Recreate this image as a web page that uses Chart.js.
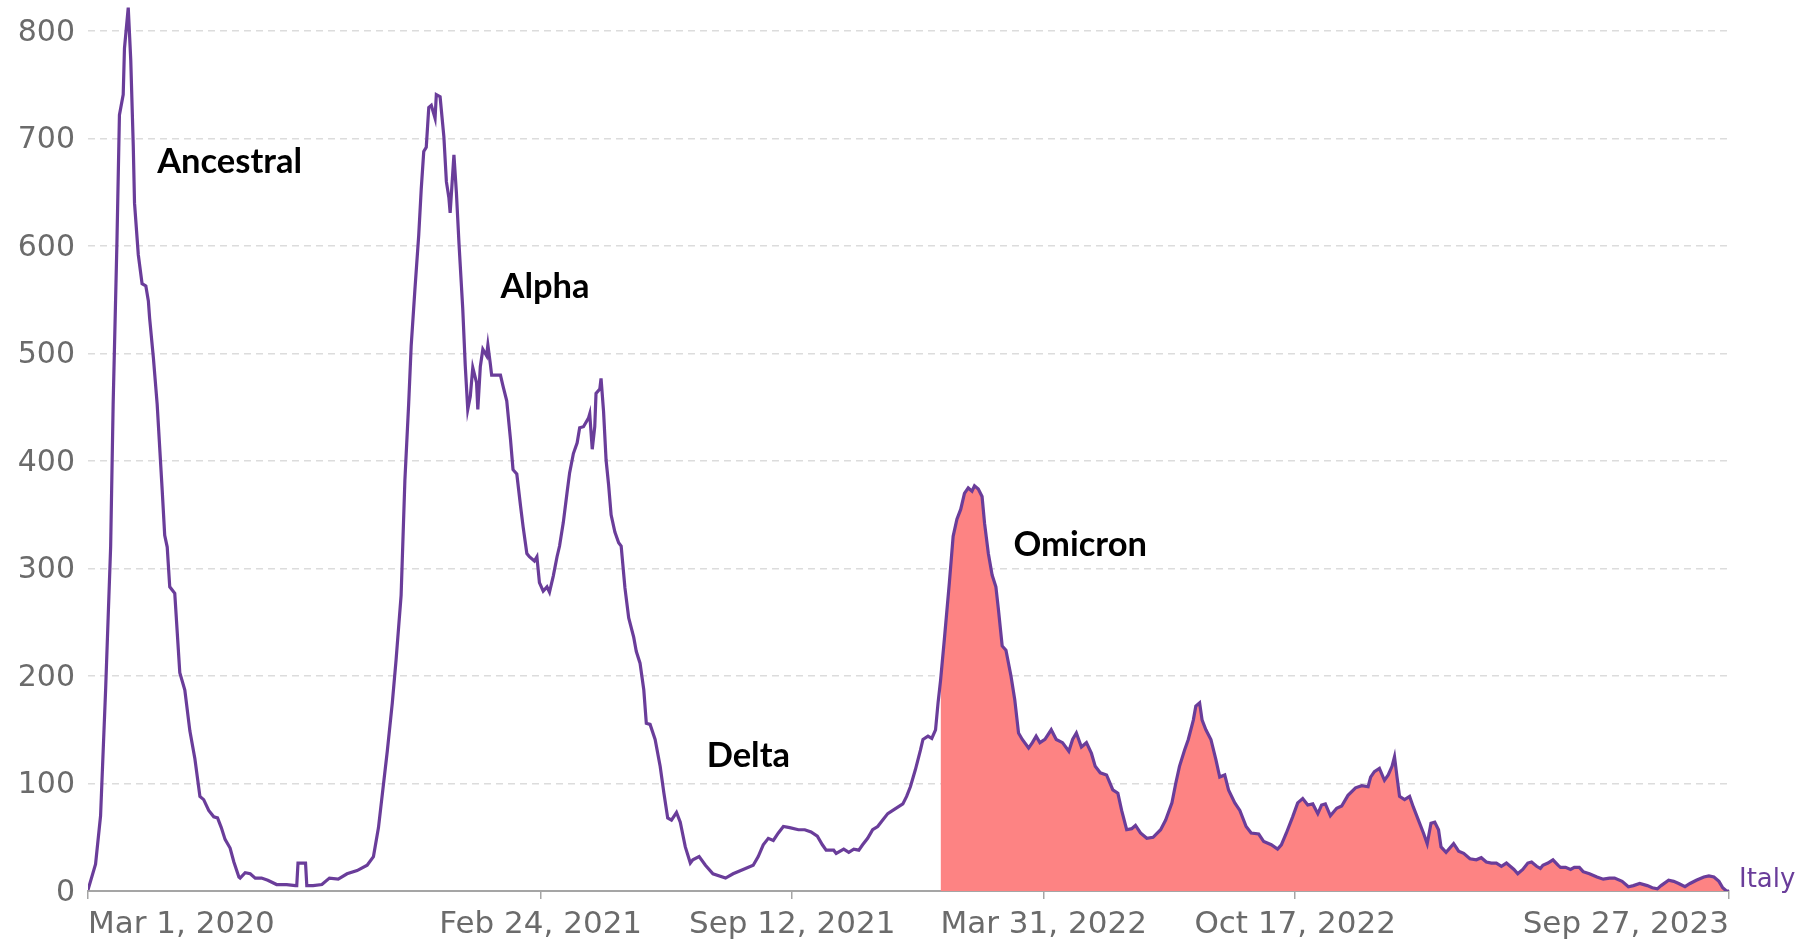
<!DOCTYPE html>
<html>
<head>
<meta charset="utf-8">
<script src="https://cdn.jsdelivr.net/npm/chart.js@4"></script>
<style>
  html, body { margin: 0; padding: 0; background: #fff; }
  #wrap { width: 1801px; height: 943px; }
</style>
</head>
<body>
<div id="wrap"><canvas id="myChart" width="1801" height="943"></canvas></div>
<script>
// days since Mar 1, 2020 and the value
const dayOffsets = [
  0, 6, 10, 14, 18, 20, 23, 25, 28, 29, 32, 34, 36, 37, 40, 43, 46, 48, 49, 52,
  55, 59, 61, 63, 65, 69, 71, 73, 77, 81, 85, 89, 92, 96, 100, 103, 106, 109, 113, 116,
  120, 121, 125, 129, 133, 138, 143, 150, 158, 165, 166, 167, 173, 174, 179, 186, 192, 199, 206, 214,
  222, 227, 231, 238, 242, 245, 249, 252, 255, 257, 260, 263, 265, 267, 269, 271, 273, 276, 277, 280,
  283, 285, 287, 288, 291, 293, 295, 298, 300, 302, 304, 306, 309, 310, 312, 314, 317, 318, 320, 321,
  324, 328, 330, 333, 336, 338, 341, 344, 346, 349, 351, 355, 357, 359, 362, 365, 367, 370, 373, 375,
  378, 381, 383, 386, 389, 391, 394, 398, 399, 401, 403, 404, 407, 408, 410, 412, 414, 416, 419, 422,
  424, 427, 430, 434, 436, 439, 442, 444, 447, 451, 455, 458, 461, 464, 468, 471, 475, 479, 481, 486,
  491, 497, 507, 513, 521, 529, 533, 537, 541, 545, 549, 553, 558, 565, 570, 575, 580, 584, 587, 593,
  595, 601, 605, 609, 613, 616, 620, 624, 628, 632, 636, 640, 644, 648, 651, 654, 658, 662, 664, 668,
  671, 674, 676, 678, 681, 685, 688, 691, 694, 697, 700, 703, 705, 708, 711, 713, 716, 719, 722, 724,
  727, 730, 734, 737, 740, 743, 748, 751, 754, 757, 761, 766, 770, 775, 780, 783, 786, 790, 794, 798,
  801, 805, 810, 815, 819, 822, 826, 830, 833, 837, 842, 847, 853, 857, 862, 865, 868, 872, 875, 879,
  881, 884, 886, 889, 893, 897, 900, 904, 907, 912, 916, 921, 925, 931, 935, 941, 946, 949, 953, 958,
  962, 966, 970, 974, 978, 981, 984, 988, 993, 997, 1002, 1008, 1013, 1018, 1020, 1023, 1027, 1031, 1034, 1037,
  1039, 1041, 1043, 1047, 1051, 1054, 1058, 1062, 1065, 1068, 1071, 1074, 1076, 1080, 1086, 1090, 1094, 1099, 1104, 1108,
  1112, 1116, 1120, 1124, 1128, 1134, 1137, 1141, 1145, 1148, 1152, 1155, 1157, 1161, 1165, 1169, 1171, 1175, 1179, 1182,
  1186, 1189, 1194, 1200, 1205, 1210, 1214, 1220, 1225, 1229, 1234, 1240, 1244, 1248, 1251, 1257, 1261, 1265, 1270, 1274,
  1279, 1285, 1289, 1293, 1297, 1300, 1303, 1305
]
const incidence = [
  1, 25, 70, 187, 320, 453, 603, 722, 741, 784, 822, 773, 693, 640, 592, 565, 563, 549, 533, 496,
  453, 373, 331, 320, 283, 277, 240, 203, 187, 149, 123, 88, 85, 75, 69, 68, 59, 48, 40, 27,
  13, 12, 17, 16, 12, 12, 10, 6, 6, 5, 5, 26, 26, 5, 5, 6, 12, 11, 16, 19,
  24, 32, 59, 130, 175, 215, 275, 382, 453, 507, 560, 610, 653, 688, 692, 729, 731, 719, 741, 739,
  702, 660, 645, 631, 685, 649, 603, 542, 489, 448, 460, 487, 473, 448, 488, 504, 498, 508, 490, 480,
  480, 480, 470, 456, 420, 392, 388, 358, 339, 314, 311, 307, 311, 287, 279, 283, 278, 293, 311, 321,
  343, 371, 389, 407, 417, 431, 432, 440, 444, 411, 432, 463, 467, 477, 446, 401, 378, 350, 334, 324,
  321, 282, 254, 236, 223, 212, 187, 156, 155, 141, 116, 91, 68, 66, 73, 64, 41, 26, 29, 32,
  24, 16, 12, 16, 20, 24, 32, 43, 49, 47, 54, 60, 59, 57, 57, 55, 51, 43, 38, 38,
  35, 39, 36, 39, 38, 43, 49, 57, 60, 66, 72, 75, 78, 81, 88, 97, 113, 131, 141, 144,
  142, 150, 175, 196, 234, 287, 330, 346, 355, 370, 375, 372, 377, 374, 367, 342, 314, 294, 283, 262,
  228, 224, 200, 178, 147, 141, 133, 138, 144, 138, 141, 150, 141, 138, 130, 141, 147, 134, 138, 128,
  116, 110, 108, 94, 91, 75, 57, 58, 61, 54, 49, 50, 57, 66, 82, 100, 116, 131, 141, 159,
  172, 175, 159, 150, 141, 122, 106, 108, 94, 82, 75, 60, 54, 53, 46, 43, 39, 43, 54, 69,
  82, 86, 80, 81, 72, 80, 81, 70, 77, 79, 89, 96, 98, 97, 106, 111, 114, 103, 108, 116,
  125, 106, 88, 85, 88, 78, 66, 54, 44, 63, 64, 57, 41, 36, 44, 37, 35, 30, 29, 31,
  27, 26, 26, 23, 26, 20, 16, 20, 26, 27, 23, 21, 24, 26, 29, 24, 22, 22, 20, 22,
  22, 18, 16, 13, 11, 12, 12, 9, 4, 5, 7, 5, 3, 2, 5, 10, 9, 7, 4, 7,
  10, 13, 14, 13, 9, 3, 0, 0
]

const omicronStartDay = 678

const xTickDays = [0, 360, 560, 760, 960, 1305]
const xTickLabels = ['Mar 1, 2020', 'Feb 24, 2021', 'Sep 12, 2021', 'Mar 31, 2022', 'Oct 17, 2022', 'Sep 27, 2023']
const yTicks = [0, 100, 200, 300, 400, 500, 600, 700, 800]

const waveNames = ['Ancestral', 'Alpha', 'Delta', 'Omicron']
const waveDays = [55, 328, 492, 736]
const waveLevels = [668, 552, 115, 312]

const seriesName = 'Italy'

const linePoints = dayOffsets.map((d, i) => ({x: d, y: incidence[i]}))
const omicronPoints = linePoints.filter(p => p.x >= omicronStartDay)

const tickColor = '#6b6b6b'

// wave names and the end label, placed through the scales
const labelPlugin = {
  id: 'waveLabels',
  afterDatasetsDraw(chart) {
    const {ctx, scales: {x, y}, chartArea} = chart
    ctx.save()
    ctx.font = 'bold 34.5px Lato'
    ctx.fillStyle = '#000'
    ctx.textBaseline = 'alphabetic'
    ctx.textAlign = 'left'
    waveNames.forEach((name, i) => {
      ctx.fillText(name, x.getPixelForValue(waveDays[i]), y.getPixelForValue(waveLevels[i]))
    })
    ctx.font = '26px DejaVu Sans'
    ctx.fillStyle = '#6a3d9a'
    ctx.fillText(seriesName, chartArea.right + 10, y.getPixelForValue(0) - 4)
    ctx.restore()
  }
}

new Chart(document.getElementById('myChart'), {
  type: 'line',
  data: {
    datasets: [
      {
        label: seriesName,
        data: linePoints,
        borderColor: '#6a3d9a',
        borderWidth: 3.2,
        pointRadius: 0,
        fill: false,
        tension: 0,
        order: 0
      },
      {
        label: 'Omicron',
        data: omicronPoints,
        borderColor: '#d2253d',
        borderWidth: 1.5,
        backgroundColor: '#fd8383',
        pointRadius: 0,
        fill: 'origin',
        tension: 0,
        order: 1
      }
    ]
  },
  options: {
    responsive: false,
    animation: false,
    layout: {padding: {top: 0, right: 72, bottom: 0, left: 0}},
    plugins: {
      legend: {display: false},
      tooltip: {enabled: false}
    },
    scales: {
      x: {
        type: 'linear',
        min: 0,
        max: 1305,
        afterBuildTicks: scale => { scale.ticks = xTickDays.map(v => ({value: v})) },
        afterFit: scale => {
          scale.height = 52
          scale.paddingLeft = 0
          scale.paddingRight = 0
        },
        ticks: {
          font: {family: 'DejaVu Sans', size: 31},
          color: tickColor,
          align: 'inner',
          autoSkip: false,
          maxRotation: 0,
          padding: 7,
          callback: value => xTickLabels[xTickDays.indexOf(value)]
        },
        grid: {
          drawOnChartArea: false,
          drawTicks: true,
          tickLength: 8,
          color: '#a5a5a5',
          lineWidth: 1.5
        },
        border: {display: true, color: '#a5a5a5', width: 2}
      },
      y: {
        type: 'linear',
        min: 0,
        max: 829,
        afterBuildTicks: scale => { scale.ticks = yTicks.map(v => ({value: v})) },
        afterFit: scale => {
          scale.width = 88
          scale.paddingTop = 0
          scale.paddingBottom = 0
        },
        ticks: {
          font: {family: 'DejaVu Sans', size: 30},
          color: tickColor,
          padding: 13,
          labelOffset: 2
        },
        grid: {
          color: '#dcdcdc',
          lineWidth: 1.5,
          drawTicks: false
        },
        border: {display: false, dash: [7, 5]}
      }
    }
  },
  plugins: [labelPlugin]
})
</script>
</body>
</html>
